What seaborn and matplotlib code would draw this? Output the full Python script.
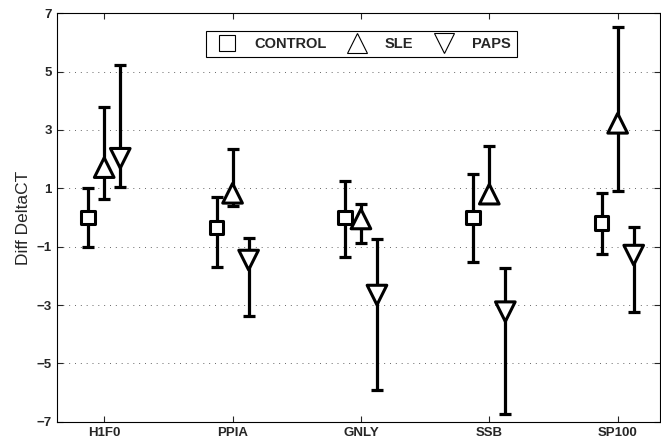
import numpy as np
import pandas as pd
import matplotlib
matplotlib.use("Agg")
import matplotlib.pyplot as plt
import seaborn as sns
from matplotlib.lines import Line2D

# --------------------
# Data
# --------------------
genes = ["H1F0", "PPIA", "GNLY", "SSB", "SP100"]
groups = ["CONTROL", "SLE", "PAPS"]

control_mean = [0.0, -0.34, 0.0, 0.0, -0.18]
control_lo = [-1.0, -1.71, -1.34, -1.52, -1.25]
control_hi = [1.0, 0.69, 1.25, 1.49, 0.83]

sle_mean = [1.71, 0.83, -0.05, 0.80, 3.23]
sle_lo = [0.63, 0.40, -0.88, 0.54, 0.92]
sle_hi = [3.80, 2.35, 0.46, 2.45, 6.52]

paps_mean = [2.03, -1.46, -2.66, -3.23, -1.29]
paps_lo = [1.03, -3.38, -5.91, -6.75, -3.25]
paps_hi = [5.23, -0.71, -0.74, -1.74, -0.34]

yticks = [-7, -5, -3, -1, 1, 3, 5, 7]

# --------------------
# Long table
# --------------------
rows = []
for g, (m, lo, hi) in zip(groups, [(control_mean, control_lo, control_hi),
                                   (sle_mean, sle_lo, sle_hi),
                                   (paps_mean, paps_lo, paps_hi)]):
    for i, gene in enumerate(genes):
        rows.append({"gene": gene, "group": g, "mean": m[i], "lo": lo[i], "hi": hi[i]})
df = pd.DataFrame(rows)

offset = {"CONTROL": -0.125, "SLE": 0.0, "PAPS": 0.125}
df["x"] = df["gene"].map({g: i + 1 for i, g in enumerate(genes)}) + df["group"].map(offset)

# --------------------
# Plot
# --------------------
sns.set_style("ticks")
plt.rcParams["font.family"] = ["Liberation Sans", "DejaVu Sans"]

fig = plt.figure(figsize=(6.61, 4.45), dpi=100)
ax = fig.add_axes([0.0858, 0.0524, 0.9127, 0.9177])

ax.errorbar(df["x"], df["mean"],
            yerr=[df["mean"] - df["lo"], df["hi"] - df["mean"]],
            fmt="none", ecolor="black", elinewidth=2.3, capsize=4.5,
            capthick=2.3, zorder=2)

markers = {"CONTROL": "s", "SLE": "^", "PAPS": "v"}
sns.scatterplot(data=df, x="x", y="mean", style="group", markers=markers,
                size="group", sizes={"CONTROL": 95, "SLE": 200, "PAPS": 200},
                color="white", edgecolor="black", linewidth=2.2,
                legend=False, zorder=3, ax=ax)

ax.set_xlim(0.63, 5.33)
ax.set_ylim(-7, 7)
ax.set_xticks(range(1, len(genes) + 1))
ax.set_xticklabels(genes, fontweight="bold", fontsize=9.5)
ax.set_yticks(yticks)
ax.set_yticklabels([str(v).replace("-", "\u2212") for v in yticks],
                   fontweight="bold", fontsize=9.5)
ax.set_xlabel("")
ax.set_ylabel("Diff DeltaCT", fontsize=12.5, labelpad=4)

ax.tick_params(direction="in", length=4, width=0.8, top=True, right=True)
ax.yaxis.grid(True, linestyle=(0, (1, 5)), color="#666666", linewidth=0.7)
for s in ax.spines.values():
    s.set_linewidth(0.8)
    s.set_color("black")

handles = [Line2D([], [], marker=markers[g], linestyle="none",
                  markerfacecolor="white", markeredgecolor="black",
                  markeredgewidth=0.8, markersize=11 if g == "CONTROL" else 15)
           for g in groups]
leg = ax.legend(handles, groups, loc="upper center", ncol=3,
                bbox_to_anchor=(0.505, 0.957), borderaxespad=0,
                frameon=True, fancybox=False,
                edgecolor="black", framealpha=1, handletextpad=0.9,
                columnspacing=1.1, borderpad=0.4, handlelength=2.0,
                prop={"weight": "bold", "size": 10.5})
leg.get_frame().set_linewidth(0.8)

fig.savefig("out.png", dpi=100)
